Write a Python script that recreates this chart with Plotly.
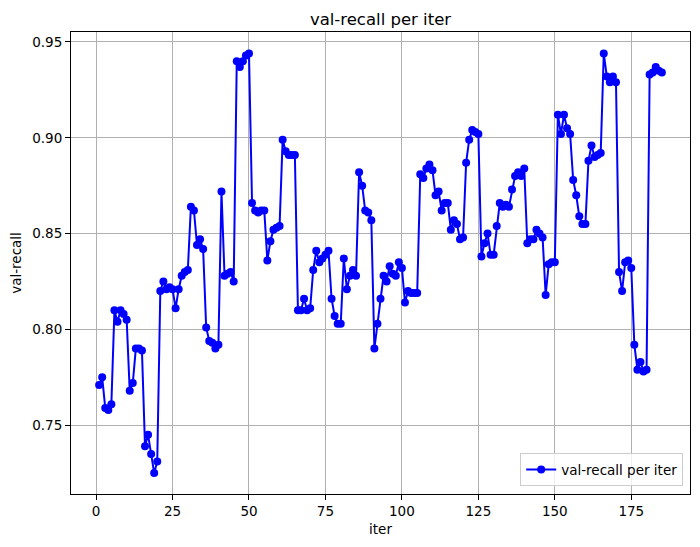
import plotly.graph_objects as go

# val-recall per iteration
iters = list(range(1, 186))

recall = [
    0.771, 0.775, 0.759, 0.758, 0.761, 0.810, 0.804, 0.810, 0.808, 0.805,
    0.768, 0.772, 0.790, 0.790, 0.789, 0.739, 0.745, 0.735, 0.725, 0.731,
    0.820, 0.825, 0.821, 0.822, 0.821, 0.811, 0.821, 0.828, 0.830, 0.831,
    0.864, 0.862, 0.844, 0.847, 0.842, 0.801, 0.794, 0.793, 0.790, 0.792,
    0.872, 0.828, 0.829, 0.830, 0.825, 0.940, 0.937, 0.940, 0.943, 0.944,
    0.866, 0.862, 0.861, 0.862, 0.862, 0.836, 0.846, 0.852, 0.853, 0.854,
    0.899, 0.893, 0.891, 0.891, 0.891, 0.810, 0.810, 0.816, 0.810, 0.811,
    0.831, 0.841, 0.835, 0.837, 0.839, 0.841, 0.816, 0.807, 0.803, 0.803,
    0.837, 0.821, 0.828, 0.831, 0.828, 0.882, 0.875, 0.862, 0.861, 0.857,
    0.790, 0.803, 0.816, 0.828, 0.825, 0.833, 0.829, 0.828, 0.835, 0.832,
    0.814, 0.820, 0.819, 0.819, 0.819, 0.881, 0.879, 0.884, 0.886, 0.883,
    0.870, 0.872, 0.862, 0.866, 0.866, 0.852, 0.857, 0.855, 0.847, 0.848,
    0.887, 0.899, 0.904, 0.903, 0.902, 0.838, 0.845, 0.850, 0.839, 0.839,
    0.854, 0.866, 0.864, 0.865, 0.864, 0.873, 0.880, 0.882, 0.880, 0.884,
    0.845, 0.847, 0.847, 0.852, 0.850, 0.848, 0.818, 0.834, 0.835, 0.835,
    0.912, 0.902, 0.912, 0.905, 0.902, 0.878, 0.870, 0.859, 0.855, 0.855,
    0.888, 0.896, 0.890, 0.891, 0.892, 0.944, 0.932, 0.929, 0.932, 0.929,
    0.830, 0.820, 0.835, 0.836, 0.832, 0.792, 0.779, 0.783, 0.778, 0.779,
    0.933, 0.934, 0.937, 0.935, 0.934,
]

x_ticks = [0, 25, 50, 75, 100, 125, 150, 175]
y_ticks = [0.75, 0.80, 0.85, 0.90, 0.95]

# the page body keeps its default 8px margin, so the figure is sized to fit
W, H = 692, 539

fig = go.Figure()
fig.add_trace(go.Scatter(
    x=iters,
    y=recall,
    mode="lines+markers",
    name="val-recall per iter",
    line=dict(color="#0000ff", width=2),
    marker=dict(color="#0000ff", size=8),
))

axis_style = dict(
    showline=True,
    linecolor="black",
    linewidth=1.1,
    mirror=True,
    ticks="outside",
    ticklen=5,
    tickcolor="black",
    showgrid=True,
    gridcolor="#b0b0b0",
    gridwidth=1.1,
    zeroline=False,
    automargin=False,
    tickfont=dict(size=13.5, color="black"),
)

fig.update_layout(
    width=W,
    height=H,
    margin=dict(l=63, r=10, t=24, b=53),
    paper_bgcolor="white",
    plot_bgcolor="white",
    font=dict(family="DejaVu Sans", color="black"),
    title=dict(
        text="val-recall per iter",
        x=0.5, xref="paper", xanchor="center",
        y=1 - 11 / H, yref="container", yanchor="middle",
        font=dict(size=16.5),
    ),
    legend=dict(
        x=0.989, y=0.017, xanchor="right", yanchor="bottom",
        bgcolor="rgba(255,255,255,0.8)",
        bordercolor="#cccccc", borderwidth=1,
        font=dict(size=13.5),
    ),
    showlegend=True,
)
fig.update_xaxes(
    range=[-8.2, 194.2], tickvals=x_ticks,
    title=dict(text="iter", font=dict(size=13.5), standoff=6),
    **axis_style,
)
fig.update_yaxes(
    range=[0.7141, 0.9552], tickvals=y_ticks, tickformat=".2f",
    title=dict(text="val-recall", font=dict(size=13.5), standoff=7),
    **axis_style,
)

fig.write_html("out.html")
